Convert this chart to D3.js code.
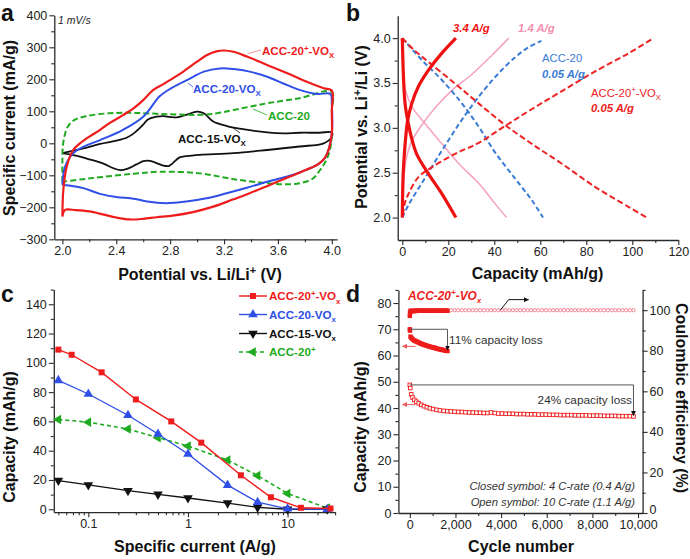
<!DOCTYPE html>
<html><head><meta charset="utf-8">
<script src="https://cdn.jsdelivr.net/npm/d3@7"></script>
<style>
body{margin:0;background:#fff;}
svg{display:block;font-family:"Liberation Sans",Arial,sans-serif;}
</style></head><body>
<svg id="c" width="690" height="559"></svg>
<script>
// ---------- Panel a: cyclic voltammetry (potential V, current mA/g) ----------
const cvRed = [[2.0,-229],[2.007,-146],[2.032,-73],[2.08,-21],[2.13,0],[2.2,21],[2.28,42],[2.35,63],[2.45,88],[2.53,110],[2.6,135],[2.675,167],[2.75,185],[2.8,198],[2.9,225],[3.0,255],[3.07,275],[3.15,288],[3.2,290],[3.27,286],[3.37,271],[3.52,245],[3.67,219],[3.81,193],[3.94,172],[4.0,165],[4.0,100],[4.0,30],[3.98,-15],[3.95,-45],[3.9,-65],[3.81,-83],[3.69,-104],[3.54,-130],[3.39,-156],[3.27,-175],[3.12,-198],[2.97,-215],[2.82,-226],[2.7,-231],[2.6,-236],[2.5,-238],[2.4,-232],[2.3,-222],[2.2,-213],[2.1,-209],[2.02,-208],[2.0,-229]];
const cvBlue = [[2.0,-130],[2.005,-105],[2.02,-73],[2.08,-31],[2.155,-11],[2.28,10],[2.45,42],[2.6,83],[2.72,146],[2.78,165],[2.85,182],[2.95,203],[3.05,224],[3.17,234],[3.27,232],[3.39,224],[3.52,208],[3.64,187],[3.76,167],[3.89,154],[3.99,154],[4.0,120],[4.0,30],[3.98,-15],[3.95,-45],[3.9,-65],[3.81,-83],[3.67,-104],[3.52,-120],[3.37,-139],[3.22,-156],[3.07,-172],[2.92,-182],[2.77,-187],[2.63,-182],[2.53,-173],[2.4,-168],[2.28,-158],[2.155,-140],[2.05,-132],[2.0,-130]];
const cvGreen = [[2.0,-120],[2.0,-60],[2.003,-11],[2.015,21],[2.04,52],[2.09,73],[2.18,85],[2.35,94],[2.53,95],[2.77,91],[3.02,89],[3.15,94],[3.27,104],[3.52,125],[3.76,141],[4.0,160],[4.0,100],[4.0,20],[3.98,-30],[3.95,-60],[3.91,-85],[3.86,-110],[3.76,-125],[3.64,-128],[3.52,-125],[3.27,-112],[3.02,-94],[2.72,-89],[2.53,-95],[2.3,-105],[2.155,-112],[2.0,-120]];
const cvBlack = [[2.0,-31],[2.155,-16],[2.28,-2],[2.4,8],[2.48,18],[2.53,31],[2.6,58],[2.63,73],[2.7,83],[2.75,85],[2.8,82],[2.85,81],[2.92,89],[3.0,99],[3.05,94],[3.12,68],[3.22,54],[3.34,44],[3.52,34],[3.64,31],[3.76,33],[3.91,33],[4.0,34],[4.0,20],[3.94,0],[3.76,-10],[3.52,-21],[3.27,-31],[3.02,-36],[2.92,-40],[2.87,-44],[2.82,-62],[2.79,-71],[2.75,-70],[2.7,-62],[2.65,-55],[2.6,-56],[2.55,-66],[2.48,-80],[2.43,-84],[2.38,-78],[2.3,-63],[2.2,-50],[2.13,-42],[2.0,-31]];
const aYTicks = [-300,-200,-100,0,100,200,300,400];
const aXTicks = [2.0,2.4,2.8,3.2,3.6,4.0];

// ---------- Panel b: galvanostatic profiles (capacity mAh/g, potential V) ----------
const gc34Charge = [[0,2.0],[0.2,2.34],[0.5,2.55],[0.9,2.71],[1.5,2.9],[2.3,3.08],[4.1,3.27],[7.0,3.46],[11.3,3.64],[17.1,3.83],[23.3,4.0]];
const gc34Dis = [[0,4.0],[0.2,3.8],[0.4,3.64],[1.2,3.27],[2.6,3.05],[4.2,2.87],[6.2,2.71],[11.3,2.49],[17.1,2.27],[23.3,2.0]];
const gc14Charge = [[0.3,2.0],[0.5,2.3],[0.9,2.5],[2.2,2.71],[4.3,2.86],[8.7,3.04],[14.5,3.23],[21.7,3.42],[30.4,3.6],[39,3.81],[46.3,4.0]];
const gc14Dis = [[0.2,3.75],[1.4,3.42],[4.3,3.23],[10.1,3.04],[17.3,2.82],[24.6,2.6],[33.3,2.38],[40.5,2.15],[45.3,2.0]];
const gcAccCharge = [[0,2.0],[2.9,2.15],[10.1,2.45],[17.3,2.75],[24.6,3.04],[31.8,3.3],[40.5,3.57],[49.2,3.79],[55,3.9],[60.5,3.97]];
const gcAccDis = [[0,4.0],[8.7,3.75],[17.3,3.53],[26,3.27],[33.3,3.01],[40.5,2.72],[49.2,2.43],[56.4,2.19],[61.2,2.0]];
const gcVoCharge = [[0.3,2.03],[1.0,2.15],[2.6,2.26],[7,2.45],[12.8,2.56],[22.9,2.71],[33,2.83],[44.6,3.02],[56.4,3.21],[69.4,3.41],[83.9,3.63],[98.3,3.83],[109.2,4.0]];
const gcVoDis = [[0,4.0],[5,3.87],[11.6,3.73],[23.1,3.49],[33.3,3.27],[44.8,3.03],[56.4,2.82],[69.4,2.6],[83.9,2.34],[98.3,2.12],[106.3,2.0]];
const bYTicks = [2.0,2.5,3.0,3.5,4.0];
const bXTicks = [0,20,40,60,80,100,120];

// ---------- Panel c: rate capability ----------
const rateRedX = [0.05,0.068,0.136,0.3,0.68,1.36,3.4,6.8,13.6,27];
const rateRedY = [109,105.5,93.5,75,60,45.5,23.2,8.2,1.0,0.5];
const rateX = [0.05,0.1,0.25,0.5,1,2.5,5,10,25];
const rateBlueY = [88,78.7,64.2,51.4,37.7,16.5,4.8,0.3,0];
const rateBlackY = [19.6,16.6,12.7,10.2,7.7,4.2,1.3,0,0];
const rateGreenY = [61.3,59.5,54.8,48.9,43.2,33.6,23,10.8,0.8];
const cYTicks = [0,20,40,60,80,100,120,140];
const cXTicks = [0.1,1,10];

// ---------- Panel d: cycling ----------
const closedCycles = [0,10,30,60,100,150,200,250,300,350,400,450,500,550,600,650,700,750,800,850,900,950,1000,1050,1100,1150,1200,1250,1300,1350,1400,1450,1500,1550,1600,1650];
const closedCap = [70.0,69.5,67.2,66.8,66.4,66.0,65.7,65.5,65.3,65.1,64.9,64.7,64.5,64.3,64.2,64.0,63.9,63.7,63.6,63.5,63.3,63.2,63.1,63.0,62.9,62.7,62.6,62.5,62.4,62.3,62.2,62.1,62.0,61.9,61.8,61.7];
const closedCE = [97.2,98.6,99.3,99.5,99.6,99.6,99.6,99.6,99.7,99.7,99.7,99.7,99.7,99.7,99.7,99.7,99.7,99.7,99.7,99.7,99.7,99.7,99.7,99.7,99.7,99.7,99.7,99.7,99.7,99.7,99.7,99.7,99.7,99.7,99.7,99.7];
const openCycles = [0,20,60,120,200,290,390,500,620,750,880,1020,1170,1320,1480,1640,1800,1960,2120,2280,2440,2600,2760,2920,3080,3240,3400,3560,3720,3880,4040,4200,4360,4520,4680,4840,5000,5160,5320,5480,5640,5800,5960,6120,6280,6440,6600,6760,6920,7080,7240,7400,7560,7720,7880,8040,8200,8360,8520,8680,8840,9000,9160,9320,9480,9640,9800];
const openCap = [48.8,47.6,45.2,44.0,43.1,42.4,41.8,41.2,40.7,40.3,39.9,39.6,39.3,39.1,38.9,38.8,38.7,38.6,38.5,38.5,38.4,38.3,38.3,38.2,38.2,38.1,38.1,38.3,38.1,37.9,37.9,37.8,37.8,37.8,37.7,37.7,37.7,37.6,37.6,37.6,37.5,37.5,37.5,37.4,37.4,37.4,37.3,37.3,37.3,37.3,37.2,37.2,37.2,37.2,37.1,37.1,37.1,37.1,37.0,37.0,37.0,37.0,36.9,36.9,36.9,36.9,36.8];
const openCE = openCycles.map(() => 100.0);
const dYTicksL = [0,10,20,30,40,50,60,70,80];
const dYTicksR = [0,20,40,60,80,100];
const dXTicks = [0,2000,4000,6000,8000,10000];

// ---------- helpers ----------
const svg = d3.select('#c');
const FONT = '"Liberation Sans", Arial, sans-serif';
const AX = '#2a2a2a';
const RED = '#ee1c1c', BLUE = '#2f4fe6', GREEN = '#1faa1f';
const LBL = 11.6, LBLB = 11.3;

function addAxis(tf, scale, orient, majors, minors, fmt) {
  const A = orient === 'left' ? d3.axisLeft : orient === 'right' ? d3.axisRight : d3.axisBottom;
  const g = svg.append('g').attr('transform', tf);
  if (minors && minors.length) {
    const mg = g.append('g').call(A(scale).tickValues(minors).tickSize(3).tickFormat(''));
    mg.select('.domain').remove();
  }
  g.append('g').call(A(scale).tickValues(majors).tickSize(5).tickSizeOuter(0).tickPadding(2).tickFormat(fmt));
  g.selectAll('line').attr('stroke', AX).attr('stroke-width', 1.1);
  g.selectAll('.domain').attr('stroke', AX).attr('stroke-width', 1.3);
  g.selectAll('text').attr('font-size', 12.5).attr('fill', '#222').attr('font-family', FONT);
  return g;
}
function rich(x, y, parts, fs, attrs) {
  const t = svg.append('text').attr('x', x).attr('y', y).attr('font-size', fs).attr('font-family', FONT);
  Object.entries(attrs || {}).forEach(([k, v]) => t.attr(k, v));
  let off = 0;
  parts.forEach(([s, kind]) => {
    const target = kind === 'sup' ? -0.38 * fs : kind === 'sub' ? 0.28 * fs : 0;
    const sp = t.append('tspan').text(s).attr('dy', target - off);
    if (kind) sp.attr('font-size', fs * 0.68);
    off = target;
  });
  return t;
}
const vox = (sub) => [['ACC-20', null], ['+', 'sup'], ['-VO', null], [sub, 'sub']];

// ======================= Panel a =======================
const xa = d3.scaleLinear().domain([1.94, 4.04]).range([54.3, 337.2]);
const ya = d3.scaleLinear().domain([-300, 400]).range([239.3, 15.3]);
addAxis('translate(54.3,0)', ya, 'left', aYTicks, [-250,-150,-50,50,150,250,350], d3.format('d'));
addAxis('translate(0,239.3)', xa, 'bottom', aXTicks, [2.2,2.6,3.0,3.4,3.8], d3.format('.1f'));
const lineA = d3.line().x(d => xa(d[0])).y(d => ya(d[1])).curve(d3.curveCatmullRom.alpha(0.5));
svg.append('path').datum(cvBlack).attr('d', lineA).attr('fill', 'none').attr('stroke', '#111').attr('stroke-width', 1.8);
svg.append('path').datum(cvGreen).attr('d', lineA).attr('fill', 'none').attr('stroke', GREEN).attr('stroke-width', 2).attr('stroke-dasharray', '6,3');
svg.append('path').datum(cvBlue).attr('d', lineA).attr('fill', 'none').attr('stroke', BLUE).attr('stroke-width', 2);
svg.append('path').datum(cvRed).attr('d', lineA).attr('fill', 'none').attr('stroke', RED).attr('stroke-width', 2.2);
rich(58, 24, [['1 mV/s', null]], 10.5, {'font-style': 'italic', fill: '#222'});
// leader lines
[[248, 53.5, 261, 50, '#f27a8a'], [188, 83, 193, 87, BLUE], [253, 109, 267, 115, GREEN], [233, 128, 240, 133, '#222']].forEach(l =>
  svg.append('line').attr('x1', l[0]).attr('y1', l[1]).attr('x2', l[2]).attr('y2', l[3]).attr('stroke', l[4]).attr('stroke-width', 0.8));
rich(262, 55, vox('X'), LBL, {'font-weight': 'bold', fill: RED});
rich(193, 93, [['ACC-20-VO', null], ['X', 'sub']], LBL, {'font-weight': 'bold', fill: BLUE});
rich(268, 120, [['ACC-20', null]], LBL, {'font-weight': 'bold', fill: GREEN});
rich(178, 143, [['ACC-15-VO', null], ['X', 'sub']], LBL, {'font-weight': 'bold', fill: '#111'});
rich(200, 280, [['Potential vs. Li/Li', null], ['+', 'sup'], [' (V)', null]], 16, {'font-weight': 'bold', 'text-anchor': 'middle', fill: '#111'});
rich(0, 0, [['Specific current (mA/g)', null]], 16, {'font-weight': 'bold', 'text-anchor': 'middle', fill: '#111', transform: 'translate(14.5,128) rotate(-90)'});
rich(1, 21, [['a', null]], 23, {'font-weight': 'bold', fill: '#111'});

// ======================= Panel b =======================
const xb = d3.scaleLinear().domain([-2, 120]).range([397.7, 678.3]);
const yb = d3.scaleLinear().domain([1.75, 4.25]).range([240, 15.7]);
addAxis('translate(397.7,0)', yb, 'left', bYTicks, [2.25,2.75,3.25,3.75], d3.format('.1f'));
addAxis('translate(0,240)', xb, 'bottom', bXTicks, [10,30,50,70,90,110], d3.format('d'));
const lineB = d3.line().x(d => xb(d[0])).y(d => yb(d[1])).curve(d3.curveCatmullRom.alpha(0.5));
[[gc14Charge, '#f5a3c0', 1.5, null], [gc14Dis, '#f5a3c0', 1.5, null],
 [gcAccCharge, '#3a7bd5', 2, '5,3'], [gcAccDis, '#3a7bd5', 2, '5,3'],
 [gcVoCharge, '#ee2222', 2, '6,3'], [gcVoDis, '#ee2222', 2, '6,3'],
 [gc34Charge, '#ee1111', 3.2, null], [gc34Dis, '#ee1111', 3.2, null]].forEach(([d, c, w, da]) => {
  const p = svg.append('path').datum(d).attr('d', lineB).attr('fill', 'none').attr('stroke', c).attr('stroke-width', w);
  if (da) p.attr('stroke-dasharray', da);
});
rich(453, 31.5, [['3.4 A/g', null]], LBLB, {'font-weight': 'bold', 'font-style': 'italic', fill: '#ee1111'});
rich(518, 31.5, [['1.4 A/g', null]], LBLB, {'font-weight': 'bold', 'font-style': 'italic', fill: '#f48fb1'});
rich(542, 61.5, [['ACC-20', null]], LBLB, {fill: '#3a7bd5'});
rich(542, 77.5, [['0.05 A/g', null]], LBLB, {'font-weight': 'bold', 'font-style': 'italic', fill: '#3a7bd5'});
rich(591, 96.5, vox('X'), LBLB, {fill: '#ee2222'});
rich(591, 112, [['0.05 A/g', null]], LBLB, {'font-weight': 'bold', 'font-style': 'italic', fill: '#ee2222'});
rich(537.5, 279, [['Capacity (mAh/g)', null]], 16, {'font-weight': 'bold', 'text-anchor': 'middle', fill: '#111'});
rich(0, 0, [['Potential vs. Li', null], ['+', 'sup'], ['/Li (V)', null]], 16, {'font-weight': 'bold', 'text-anchor': 'middle', fill: '#111', transform: 'translate(367,127) rotate(-90)'});
rich(346, 21, [['b', null]], 23, {'font-weight': 'bold', fill: '#111'});

// ======================= Panel c =======================
const xc = d3.scaleLog().domain([0.045, 30]).range([53.8, 335.1]);
const yc = d3.scaleLinear().domain([-2, 150]).range([512.2, 289.6]);
addAxis('translate(53.8,0)', yc, 'left', cYTicks, [10,30,50,70,90,110,130,150], d3.format('d'));
addAxis('translate(0,512.2)', xc, 'bottom', cXTicks, [0.05,0.06,0.07,0.08,0.09,0.2,0.3,0.4,0.5,0.6,0.7,0.8,0.9,2,3,4,5,6,7,8,9,20,30], d => String(d));
const seriesC = [
  {x: rateX, y: rateGreenY, color: GREEN, dash: '4,3', sym: d3.symbolTriangle, rot: -90, w: 1.6},
  {x: rateX, y: rateBlackY, color: '#111', dash: null, sym: d3.symbolTriangle, rot: 180, w: 1.3},
  {x: rateX, y: rateBlueY, color: BLUE, dash: null, sym: d3.symbolTriangle, rot: 0, w: 1.3},
  {x: rateRedX, y: rateRedY, color: RED, dash: null, sym: d3.symbolSquare, rot: 0, w: 1.4},
];
seriesC.forEach(s => {
  const pts = s.x.map((v, i) => [v, s.y[i]]);
  const p = svg.append('path').datum(pts).attr('d', d3.line().x(d => xc(d[0])).y(d => yc(d[1])))
    .attr('fill', 'none').attr('stroke', s.color).attr('stroke-width', s.w);
  if (s.dash) p.attr('stroke-dasharray', s.dash);
  svg.append('g').selectAll('path').data(pts).join('path')
    .attr('d', d3.symbol().type(s.sym).size(s.sym === d3.symbolSquare ? 36 : 40))
    .attr('transform', d => `translate(${xc(d[0])},${yc(d[1])}) rotate(${s.rot})`)
    .attr('fill', s.color);
});
// legend
const legNames = [vox('x'), [['ACC-20-VO', null], ['x', 'sub']], [['ACC-15-VO', null], ['x', 'sub']], [['ACC-20', null], ['+', 'sup']]];
const legColors = [RED, BLUE, '#111', GREEN];
const legSyms = [[d3.symbolSquare, 0], [d3.symbolTriangle, 0], [d3.symbolTriangle, 180], [d3.symbolTriangle, -90]];
const legY = [296, 314.5, 333.5, 352];
legNames.forEach((n, i) => {
  const l = svg.append('line').attr('x1', 239).attr('x2', 267).attr('y1', legY[i]).attr('y2', legY[i])
    .attr('stroke', legColors[i]).attr('stroke-width', i === 3 ? 1.6 : 1.4);
  if (i === 3) l.attr('stroke-dasharray', '4,3');
  svg.append('path').attr('d', d3.symbol().type(legSyms[i][0]).size(legSyms[i][0] === d3.symbolSquare ? 36 : 40))
    .attr('transform', `translate(253,${legY[i]}) rotate(${legSyms[i][1]})`).attr('fill', legColors[i]);
  rich(269, legY[i] + 4.3, n, LBL, {'font-weight': 'bold', fill: legColors[i]});
});
rich(195, 552, [['Specific current (A/g)', null]], 16, {'font-weight': 'bold', 'text-anchor': 'middle', fill: '#111'});
rich(0, 0, [['Capacity (mAh/g)', null]], 16, {'font-weight': 'bold', 'text-anchor': 'middle', fill: '#111', transform: 'translate(14.5,437) rotate(-90)'});
rich(1, 302, [['c', null]], 23, {'font-weight': 'bold', fill: '#111'});

// ======================= Panel d =======================
const xd = d3.scaleLinear().domain([-500, 10200]).range([398.4, 642.6]);
const ydL = d3.scaleLinear().domain([0, 85]).range([513, 289.9]);
const ydR = d3.scaleLinear().domain([0, 110]).range([513, 289.9]);
addAxis('translate(398.4,0)', ydL, 'left', dYTicksL, [5,15,25,35,45,55,65,75,85], d3.format('d'));
const rAx = addAxis('translate(642.6,0)', ydR, 'right', dYTicksR, [10,30,50,70,90,110], d3.format('d'));
rAx.selectAll('text').filter(d => d === 0).attr('dy', '0.05em');
addAxis('translate(0,513)', xd, 'bottom', dXTicks, [1000,3000,5000,7000,9000], d3.format(','));
const defs = svg.append('defs');
function arrowMarker(id, color) {
  defs.append('marker').attr('id', id).attr('viewBox', '0 0 10 10').attr('refX', 9).attr('refY', 5)
    .attr('markerWidth', 5).attr('markerHeight', 5).attr('orient', 'auto-start-reverse')
    .append('path').attr('d', 'M0,0L10,5L0,10z').attr('fill', color);
}
arrowMarker('ak', '#111');
arrowMarker('ar', '#f05a5a');
// CE open circles
svg.append('g').selectAll('circle').data(openCycles.map((c, i) => [c, openCE[i]])).join('circle')
  .attr('cx', d => xd(d[0])).attr('cy', d => ydR(d[1])).attr('r', 1.7)
  .attr('fill', '#fff').attr('stroke', '#f07a8c').attr('stroke-width', 0.9);
// CE closed squares
svg.append('g').selectAll('rect').data(closedCycles.map((c, i) => [c, closedCE[i]])).join('rect')
  .attr('x', d => xd(d[0]) - 2.2).attr('y', d => ydR(d[1]) - 2.2).attr('width', 4.4).attr('height', 4.4).attr('fill', RED);
// capacity open squares
svg.append('g').selectAll('rect').data(openCycles.map((c, i) => [c, openCap[i]])).join('rect')
  .attr('x', d => xd(d[0]) - 1.8).attr('y', d => ydL(d[1]) - 1.8).attr('width', 3.6).attr('height', 3.6)
  .attr('fill', '#fff').attr('stroke', RED).attr('stroke-width', 0.9);
// capacity closed squares
svg.append('g').selectAll('rect').data(closedCycles.map((c, i) => [c, closedCap[i]])).join('rect')
  .attr('x', d => xd(d[0]) - 2.2).attr('y', d => ydL(d[1]) - 2.2).attr('width', 4.4).attr('height', 4.4).attr('fill', RED);
// capacity loss annotations
const cEnd = closedCycles[closedCycles.length - 1], oEnd = openCycles[openCycles.length - 1];
svg.append('path').attr('d', `M${xd(0)},${ydL(closedCap[0])}H${xd(cEnd)}V${ydL(closedCap[closedCap.length - 1]) - 1}`)
  .attr('fill', 'none').attr('stroke', '#555').attr('stroke-width', 1).attr('marker-end', 'url(#ak)');
svg.append('path').attr('d', `M${xd(0)},${ydL(openCap[0])}H${xd(oEnd)}V${ydL(openCap[openCap.length - 1]) - 1}`)
  .attr('fill', 'none').attr('stroke', '#555').attr('stroke-width', 1).attr('marker-end', 'url(#ak)');
// axis-pointing arrows
svg.append('line').attr('x1', xd(250)).attr('x2', xd(-320)).attr('y1', ydL(63.5)).attr('y2', ydL(63.5))
  .attr('stroke', '#f05a5a').attr('stroke-width', 1).attr('marker-end', 'url(#ar)');
svg.append('line').attr('x1', xd(250)).attr('x2', xd(-320)).attr('y1', ydL(41.3)).attr('y2', ydL(41.3))
  .attr('stroke', '#f05a5a').attr('stroke-width', 1).attr('marker-end', 'url(#ar)');
svg.append('path').attr('d', `M${xd(3970)},${ydR(100)}L${xd(4330)},${ydR(105.2)}H${xd(5200)}`)
  .attr('fill', 'none').attr('stroke', '#111').attr('stroke-width', 1).attr('marker-end', 'url(#ak)');
rich(408, 300, vox('x'), 11.9, {'font-weight': 'bold', 'font-style': 'italic', fill: RED});
rich(449, 343.5, [['11% capacity loss', null]], 11.8, {fill: '#333'});
rich(632, 403.5, [['24% capacity loss', null]], 11.8, {fill: '#333', 'text-anchor': 'end'});
rich(635, 489.5, [['Closed symbol: 4 C-rate (0.4 A/g)', null]], 11.2, {fill: '#333', 'font-style': 'italic', 'text-anchor': 'end'});
rich(635, 505.5, [['Open symbol: 10 C-rate (1.1 A/g)', null]], 11.2, {fill: '#333', 'font-style': 'italic', 'text-anchor': 'end'});
rich(521, 552, [['Cycle number', null]], 16, {'font-weight': 'bold', 'text-anchor': 'middle', fill: '#111'});
rich(0, 0, [['Capacity (mAh/g)', null]], 16, {'font-weight': 'bold', 'text-anchor': 'middle', fill: '#111', transform: 'translate(365.5,427) rotate(-90)'});
rich(0, 0, [['Coulombic efficiency (%)', null]], 16, {'font-weight': 'bold', 'text-anchor': 'middle', fill: '#111', transform: 'translate(675.5,398) rotate(90)'});
rich(346, 302, [['d', null]], 23, {'font-weight': 'bold', fill: '#111'});
</script>
</body></html>
